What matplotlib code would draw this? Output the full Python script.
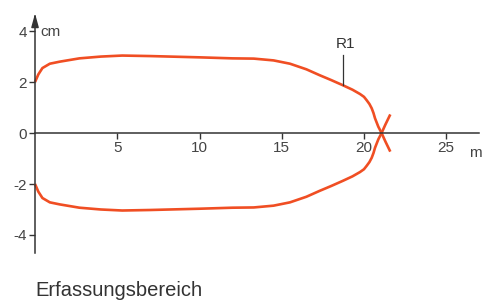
"""Erfassungsbereich R1"""

import numpy as np
import matplotlib.pyplot as plt

# upper half of the detection lobe (m, cm); lower half is mirrored
dist_m = [0.0, 0.2, 0.45, 0.9, 1.5, 2.7, 4.0, 5.3, 7.0, 10.0, 12.0, 13.3,
          14.5, 15.5, 16.5, 17.3, 18.0, 18.7, 19.3, 19.76, 20.0, 20.16,
          20.33, 20.47, 20.58, 20.67, 20.87, 21.07, 21.3, 21.6]
width_cm = [2.0, 2.3, 2.55, 2.72, 2.8, 2.93, 3.0, 3.04, 3.02, 2.97, 2.93, 2.92,
            2.85, 2.72, 2.5, 2.27, 2.08, 1.88, 1.7, 1.53, 1.42, 1.29,
            1.14, 0.97, 0.78, 0.58, 0.25, 0.0, -0.33, -0.73]
xticks = [5, 10, 15, 20, 25]
yticks = [4, 2, 0, -2, -4]
LABEL = "R1"

RED = "#f04e23"
AX = "#333333"
plt.rcParams["font.family"] = ["Liberation Sans", "DejaVu Sans"]

fig = plt.figure(figsize=(4.88, 3.02), dpi=100)
ax = fig.add_axes([0, 0, 1, 1])
ax.set_xlim(-2.13, 27.54)
ax.set_ylim(-6.63, 5.22)

x = np.array(dist_m)
y = np.array(width_cm)
ax.plot(x, y, color=RED, lw=1.9, solid_capstyle="butt", solid_joinstyle="round")
ax.plot(x, -y, color=RED, lw=1.9, solid_capstyle="butt", solid_joinstyle="round")

# axes through origin
for s in ["top", "right"]:
    ax.spines[s].set_visible(False)
ax.spines["left"].set_position(("data", 0))
ax.spines["bottom"].set_position(("data", 0))
ax.spines["left"].set_bounds(-4.7, 4.6)
ax.spines["bottom"].set_bounds(0, 27.0)
for s in ["left", "bottom"]:
    ax.spines[s].set_color(AX)
    ax.spines[s].set_linewidth(1.1)
ax.annotate("", xy=(0, 4.8), xytext=(0, 4.3),
            arrowprops=dict(arrowstyle="-|>,head_length=0.8,head_width=0.22",
                            color=AX, lw=1.1))
ax.annotate("", xy=(27.6, 0), xytext=(26.8, 0),
            arrowprops=dict(arrowstyle="-|>,head_length=0.8,head_width=0.22",
                            color=AX, lw=1.1))

ax.set_xticks(xticks)
ax.set_xticklabels([str(t) for t in xticks])
ax.set_yticks(yticks)
ax.set_yticklabels([str(t) for t in yticks])
ax.tick_params(axis="both", direction="out", length=4, width=1.0, color=AX,
               labelsize=11, labelcolor="#444444", pad=2)

ax.text(0.3, 3.96, "cm", fontsize=11, color="#444444", va="center", ha="left")
ax.text(26.4, -0.78, "m", fontsize=11, color="#444444", va="center", ha="left")

# R1 label with leader
ax.plot([18.7, 18.7], [1.88, 3.06], color=AX, lw=0.9)
ax.text(18.85, 3.5, LABEL, fontsize=11, color="#333333", ha="center", va="center")

fig.text(35 / 488, 1 - 290 / 302, "Erfassungsbereich", fontsize=14.5,
         color="#333333", ha="left", va="center")

fig.savefig("out.png", dpi=100)
